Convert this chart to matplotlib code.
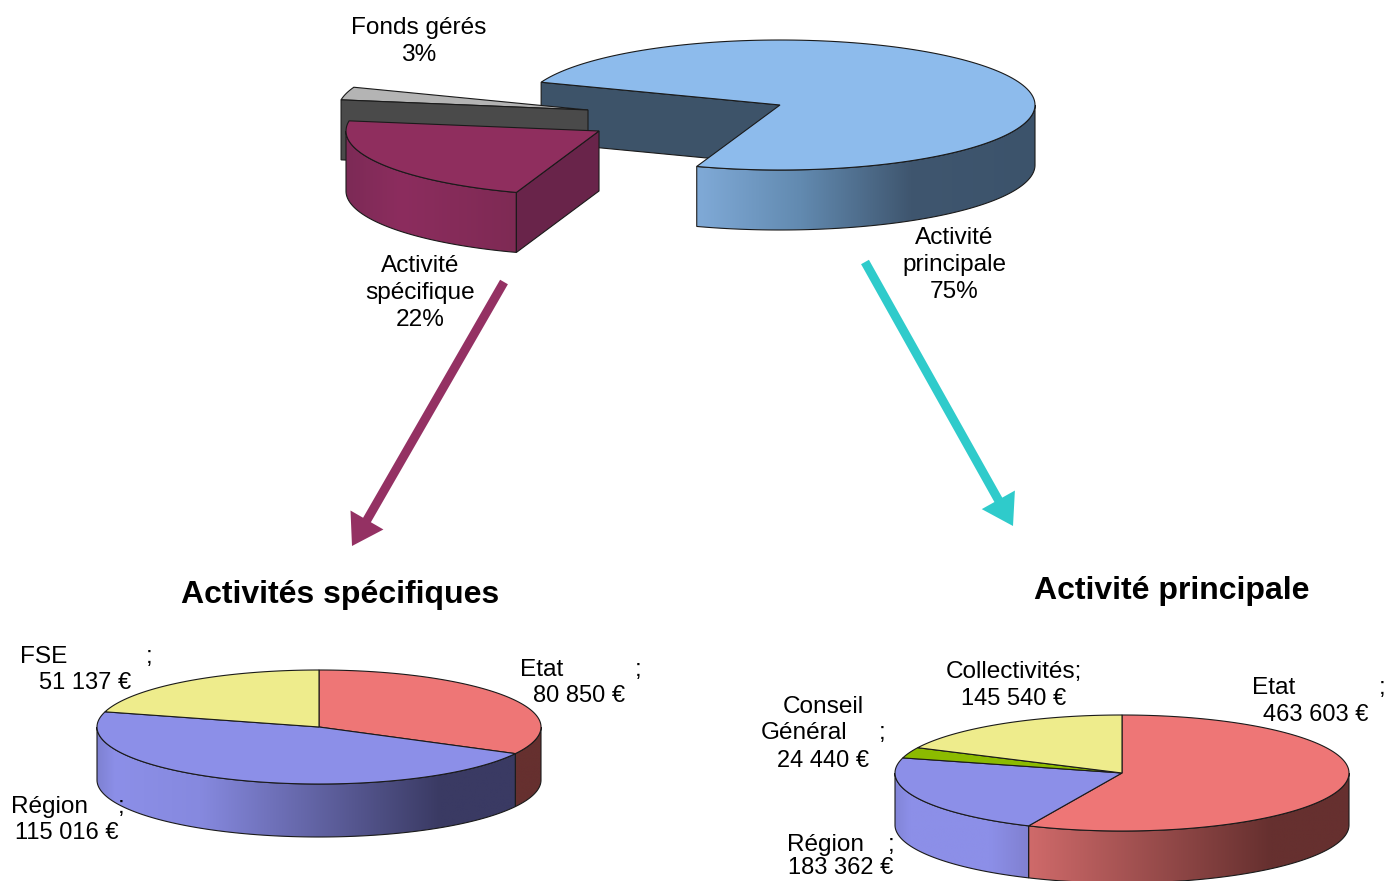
import numpy as np
import matplotlib
matplotlib.use("Agg")
import matplotlib.pyplot as plt
from matplotlib.colors import to_rgb
from matplotlib.patches import Polygon, FancyArrow

plt.rcParams['font.family'] = ['Liberation Sans', 'DejaVu Sans']

# ---- data ----
main_labels = ["Activité principale", "Activité spécifique", "Fonds gérés"]
main_shares = [74.6, 22.2, 3.2]
spec_labels = ["Etat", "Région", "FSE"]
spec_values = [80850, 115016, 51137]
princ_labels = ["Etat", "Région", "Conseil Général", "Collectivités"]
princ_values = [463603, 183362, 24440, 145540]

W, H = 1389, 881
fig = plt.figure(figsize=(W / 100, H / 100), dpi=100)
ax = fig.add_axes([0, 0, 1, 1])
ax.set_axis_off()
EDGE = "#1a1a1a"
z = [1]


def nz():
    z[0] += 1
    return z[0]


def angles(values, start):
    v = np.asarray(values, float)
    c = np.concatenate([[0], np.cumsum(v)]) / v.sum() * 360
    return start - c


def ell(cx, cy, rx, ry, t):
    t = np.radians(t)
    return cx + rx * np.cos(t), cy - ry * np.sin(t)


def top(cx, cy, rx, ry, t_hi, t_lo, color):
    t = np.linspace(t_hi, t_lo, 160)
    x, y = ell(cx, cy, rx, ry, t)
    pts = np.column_stack([np.r_[cx, x], np.r_[cy, y]])
    ax.add_patch(Polygon(pts, closed=True, fc=color, ec=EDGE, lw=0.8, zorder=nz()))


def wall(cx, cy, rx, ry, d, t_hi, t_lo, stops):
    # only the part of the rim facing the viewer (180..360 degrees)
    while t_hi <= 180:
        t_hi += 360
        t_lo += 360
    t_lo = max(t_lo, 180)
    t_hi = min(t_hi, 360)
    if t_hi <= t_lo:
        return
    t = np.linspace(t_hi, t_lo, 160)
    x, y = ell(cx, cy, rx, ry, t)
    pts = np.column_stack([np.r_[x, x[::-1]], np.r_[y, y[::-1] + d]])
    poly = Polygon(pts, closed=True, fc="none", ec=EDGE, lw=0.8)
    x0, x1 = pts[:, 0].min(), pts[:, 0].max()
    xs = np.linspace(x0, x1, 400)
    sx = [s[0] for s in stops]
    rgb = np.array([to_rgb(s[1]) for s in stops])
    img = np.stack([np.interp(xs, sx, rgb[:, i]) for i in range(3)], axis=1)[None, :, :]
    im = ax.imshow(img, extent=[x0, x1, pts[:, 1].max(), pts[:, 1].min()],
                   aspect="auto", zorder=nz(), interpolation="bilinear")
    ax.add_patch(poly)
    poly.set_zorder(nz())
    im.set_clip_path(poly)


def cut(cx, cy, rx, ry, d, t, color):
    x, y = ell(cx, cy, rx, ry, t)
    pts = [(cx, cy), (x, y), (x, y + d), (cx, cy + d)]
    ax.add_patch(Polygon(pts, closed=True, fc=color, ec=EDGE, lw=0.8, zorder=nz()))


# ---- main exploded pie ----
a = angles(main_shares, 159.5)
RX, RY, D = 255, 65, 60
# Activité principale
cut(780, 105, RX, RY, D, a[0], "#3D5369")
wall(780, 105, RX, RY, D, 360, a[1] + 360,
     [(700, "#7FA9D6"), (800, "#628AB0"), (910, "#3F566F"), (1035, "#3C536B")])
top(780, 105, RX, RY, a[0], a[1], "#8DBBEC")
# Fonds gérés
top(588, 110, 250, RY, a[2] + 360, a[3] + 360, "#B4B4B4")
cut(588, 110, 250, RY, D, a[2] + 360, "#4A4A4A")
# Activité spécifique
wall(599, 131, 253, RY, D, a[1] + 360, a[2] + 360,
     [(346, "#7C2A56"), (400, "#8C2D5E"), (517, "#7E2A54")])
cut(599, 131, 253, RY, D, a[1] + 360, "#69244A")
top(599, 131, 253, RY, a[1] + 360, a[2] + 360, "#8F2E5E")

# ---- Activités spécifiques ----
a = angles(spec_values, 90)
cx, cy, rx, ry, d = 319, 727, 222, 57, 53
wall(cx, cy, rx, ry, d, 0, a[1], [(500, "#66302F"), (545, "#66302F")])
wall(cx, cy, rx, ry, d, a[1], a[2],
     [(97, "#7E81D2"), (115, "#8C8FE8"), (200, "#8689DF"), (440, "#3A3A63"), (520, "#3A3A63")])
for i, c in enumerate(["#EE7676", "#8C8FE8", "#EEEC8C"]):
    top(cx, cy, rx, ry, a[i], a[i + 1], c)

# ---- Activité principale ----
a = angles(princ_values, 90)
cx, cy, rx, ry, d = 1122, 773, 227, 58, 52
wall(cx, cy, rx, ry, d, 0, a[1],
     [(1029, "#CF6A6A"), (1270, "#66302F"), (1349, "#66302F")])
wall(cx, cy, rx, ry, d, a[1], a[2],
     [(895, "#8285D8"), (910, "#8C8FE8"), (990, "#8C8FE8"), (1029, "#8080D0")])
for i, c in enumerate(["#EE7676", "#8C8FE8", "#8CBB00", "#EEEC8C"]):
    top(cx, cy, rx, ry, a[i], a[i + 1], c)

# ---- arrows ----
for (p0, p1, col) in [((504, 282), (352, 546), "#943163"), ((865, 262), (1013, 526), "#2FCBCB")]:
    ax.add_patch(FancyArrow(p0[0], p0[1], p1[0] - p0[0], p1[1] - p0[1], width=9, head_width=38,
                            head_length=30, length_includes_head=True, color=col, lw=0, zorder=nz()))

# ---- text ----
FS = 17.6


def t(x, y, s, ha="center", **kw):
    ax.text(x, y + 2, s, ha=ha, va="center", fontsize=kw.pop("fs", FS), color="#000000", zorder=500, **kw)


t(419, 26, "Fonds gérés"); t(419, 53, "3%")
t(954, 236, "Activité"); t(954, 263, "principale"); t(954, 290, "75%")
t(420, 264, "Activité"); t(420, 291, "spécifique"); t(420, 318, "22%")
t(340, 593, "Activités spécifiques", fs=23, fontweight="bold")
t(1172, 589, "Activité principale", fs=23, fontweight="bold")

t(20, 655, "FSE", ha="left"); t(149, 655, ";"); t(85, 681, "51 137 €", fs=17)
t(520, 668, "Etat", ha="left"); t(638, 668, ";"); t(579, 694, "80 850 €", fs=17)
t(11, 805, "Région", ha="left"); t(121, 805, ";"); t(67, 831, "115 016 €", fs=17)
t(1014, 670, "Collectivités;"); t(1014, 697, "145 540 €", fs=17)
t(1252, 686, "Etat", ha="left"); t(1382, 686, ";"); t(1316, 713, "463 603 €", fs=17)
t(823, 705, "Conseil"); t(761, 731, "Général", ha="left"); t(882, 731, ";"); t(823, 759, "24 440 €", fs=17)
t(787, 843, "Région", ha="left"); t(891, 843, ";"); t(841, 866, "183 362 €", fs=17)

ax.set_xlim(0, W)
ax.set_ylim(H, 0)
fig.savefig("out.png", dpi=100, facecolor="white")
